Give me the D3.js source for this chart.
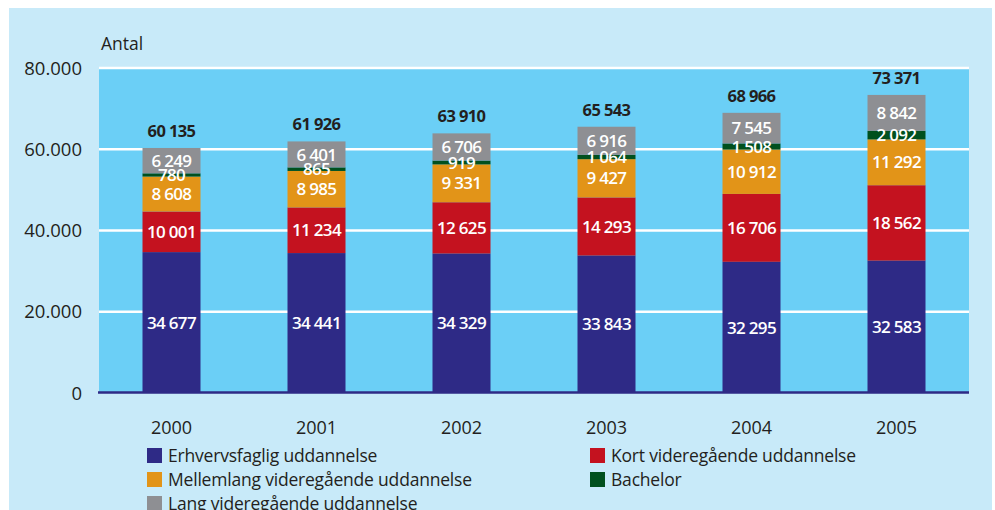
<!DOCTYPE html>
<html>
<head>
  <meta charset="utf-8">
  <script src="https://d3js.org/d3.v7.min.js"></script>
  <style>
    body { margin: 0; background: #fff; }
    text { font-family: "Open Sans", "Noto Sans", sans-serif; }
  </style>
</head>
<body>
<script>
  // values
  var years = ["2000", "2001", "2002", "2003", "2004", "2005"];
  var seriesNames = ["Erhvervsfaglig uddannelse", "Kort videregående uddannelse",
                     "Mellemlang videregående uddannelse", "Bachelor",
                     "Lang videregående uddannelse"];
  var erhverv   = [34677, 34441, 34329, 33843, 32295, 32583];
  var kort      = [10001, 11234, 12625, 14293, 16706, 18562];
  var mellem    = [8608, 8985, 9331, 9427, 10912, 11292];
  var bachelor  = [780, 865, 919, 1064, 1508, 2092];
  var lang      = [6249, 6401, 6706, 6916, 7545, 8842];
  var totals    = [60135, 61926, 63910, 65543, 68966, 73371];
  var yTicks    = [0, 20000, 40000, 60000, 80000];

  var colors = ["#2e2a86", "#c4121f", "#e29418", "#00501e", "#8e8f93"];

  var W = 995, H = 510;
  var plot = {left: 99, right: 969, top: 68, bottom: 393};

  var svg = d3.select("body").append("svg")
      .attr("width", W).attr("height", H);

  // outer panel and plot background
  svg.append("rect").attr("x", 9).attr("y", 8).attr("width", 983).attr("height", H - 8)
      .attr("fill", "#c8eaf9");
  svg.append("rect").attr("x", plot.left).attr("y", plot.top)
      .attr("width", plot.right - plot.left).attr("height", plot.bottom - plot.top)
      .attr("fill", "#6bcff6");

  var x = d3.scaleBand().domain(years).range([plot.left, plot.right]).paddingInner(0.6).paddingOuter(0.3);
  var y = d3.scaleLinear().domain([0, 80000]).range([plot.bottom, plot.top]);

  var fmt = function(v) { return d3.format(",")(v).replace(/,/g, " "); };

  // gridlines
  svg.append("g").selectAll("line").data(yTicks.filter(function(d) { return d > 0; }))
    .join("line")
      .attr("x1", plot.left).attr("x2", plot.right)
      .attr("y1", function(d) { return y(d); }).attr("y2", function(d) { return y(d); })
      .attr("stroke", "#fff").attr("stroke-width", 2.5);

  // y tick labels
  svg.append("g").selectAll("text").data(yTicks).join("text")
      .attr("x", 82).attr("y", function(d) { return y(d); })
      .attr("dy", "0.36em").attr("text-anchor", "end")
      .attr("font-size", 18.5).attr("fill", "#231f20")
      .text(function(d) { return d3.format(",")(d).replace(/,/g, "."); });

  svg.append("text").attr("x", 101).attr("y", 50)
      .attr("font-size", 17.5).attr("fill", "#231f20").text("Antal");

  // stacked data
  var table = years.map(function(yr, i) {
    return {year: yr, s0: erhverv[i], s1: kort[i], s2: mellem[i], s3: bachelor[i], s4: lang[i], total: totals[i]};
  });
  var keys = ["s0", "s1", "s2", "s3", "s4"];
  var stacked = d3.stack().keys(keys)(table);

  var layers = svg.append("g").selectAll("g").data(stacked).join("g")
      .attr("fill", function(d, i) { return colors[i]; });

  layers.selectAll("rect").data(function(d) { return d; }).join("rect")
      .attr("x", function(d) { return x(d.data.year); })
      .attr("width", x.bandwidth())
      .attr("y", function(d) { return y(d[1]); })
      .attr("height", function(d) { return y(d[0]) - y(d[1]); });

  // segment labels
  svg.append("g").selectAll("g").data(stacked).join("g")
    .selectAll("text").data(function(d) { return d.map(function(p) { return {p: p, key: d.key}; }); })
    .join("text")
      .attr("x", function(d) { return x(d.p.data.year) + x.bandwidth() / 2; })
      .attr("y", function(d) { return (y(d.p[0]) + y(d.p[1])) / 2; })
      .attr("dy", "0.36em")
      .attr("text-anchor", "middle")
      .attr("font-size", 17).attr("font-weight", 600)
      .attr("letter-spacing", -0.7)
      .attr("fill", "#fff")
      .text(function(d) { return fmt(d.p.data[d.key]); });

  // totals
  svg.append("g").selectAll("text").data(table).join("text")
      .attr("x", function(d) { return x(d.year) + x.bandwidth() / 2; })
      .attr("y", function(d) { return y(d.s0 + d.s1 + d.s2 + d.s3 + d.s4) - 11; })
      .attr("text-anchor", "middle")
      .attr("font-size", 16.5).attr("font-weight", 700)
      .attr("letter-spacing", -0.6)
      .attr("fill", "#231f20")
      .text(function(d) { return fmt(d.total); });

  // baseline axis
  svg.append("line").attr("x1", plot.left - 1).attr("x2", plot.right)
      .attr("y1", plot.bottom - 0.5).attr("y2", plot.bottom - 0.5)
      .attr("stroke", "#2e2a86").attr("stroke-width", 2.5);

  // x labels
  svg.append("g").selectAll("text").data(years).join("text")
      .attr("x", function(d) { return x(d) + x.bandwidth() / 2; })
      .attr("y", 434)
      .attr("text-anchor", "middle")
      .attr("font-size", 18).attr("fill", "#231f20")
      .text(function(d) { return d; });

  // legend
  var legendPos = [[147, 448], [590, 448], [147, 472], [590, 472], [147, 496]];
  var leg = svg.append("g").selectAll("g").data(seriesNames).join("g")
      .attr("transform", function(d, i) { return "translate(" + legendPos[i][0] + "," + legendPos[i][1] + ")"; });
  leg.append("rect").attr("width", 15).attr("height", 15)
      .attr("fill", function(d, i) { return colors[i]; });
  leg.append("text").attr("x", 21).attr("y", 14)
      .attr("font-size", 17.5).attr("letter-spacing", -0.2).attr("fill", "#231f20")
      .text(function(d) { return d; });
</script>
</body>
</html>
